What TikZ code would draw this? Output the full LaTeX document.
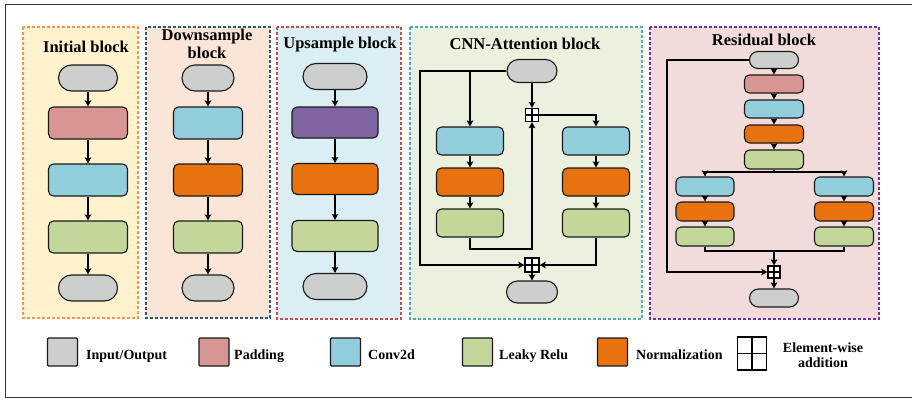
\documentclass[tikz,border=0pt]{standalone}
\usepackage{fontspec}
\setmainfont{Liberation Serif}
\usetikzlibrary{arrows.meta}
\definecolor{ioc}{HTML}{CDCFCE}
\definecolor{padc}{HTML}{D99594}
\definecolor{convc}{HTML}{92CDDC}
\definecolor{leakc}{HTML}{C4D79B}
\definecolor{normc}{HTML}{E8720F}
\definecolor{upc}{HTML}{8064A2}
\definecolor{initbg}{HTML}{FFF2CC}
\definecolor{initbd}{HTML}{F79646}
\definecolor{downbg}{HTML}{FBE5D6}
\definecolor{downbd}{HTML}{2B5C6B}
\definecolor{upbg}{HTML}{DAEEF3}
\definecolor{upbd}{HTML}{C0504D}
\definecolor{cnnbg}{HTML}{EBF1DE}
\definecolor{cnnbd}{HTML}{4BACC6}
\definecolor{resbg}{HTML}{F2DCDB}
\definecolor{resbd}{HTML}{7030A0}
\begin{document}
\begin{tikzpicture}[x=1pt,y=-1pt,
  sz/.style 2 args={minimum width=#1pt, minimum height=#2pt},
  nd/.style={draw=black!90, line width=1.1pt, inner sep=0pt, rounded corners=5pt},
  io/.style={nd, fill=ioc, rounded corners=#1},
  pad/.style={nd, fill=padc},
  conv/.style={nd, fill=convc},
  leak/.style={nd, fill=leakc},
  norm/.style={nd, fill=normc},
  ups/.style={nd, fill=upc},
  addn/.style={draw=black, line width=1.2pt, fill=white, inner sep=0pt,
    path picture={\draw[line width=1.2pt] (path picture bounding box.north) -- (path picture bounding box.south)
      (path picture bounding box.west) -- (path picture bounding box.east);}},
  blk/.style={line width=1.8pt, dash pattern=on 3pt off 2pt},
  ttl/.style={font=\bfseries\fontsize{16.5}{18}\selectfont, anchor=base, align=center, inner sep=0pt},
  lgt/.style={font=\bfseries\fontsize{14}{15}\selectfont, anchor=base west, inner sep=0pt},
  lgb/.style={draw=black!90, line width=1.3pt, inner sep=0pt, rounded corners=1pt, sz={30}{28}},
  arr/.style={-{Stealth[length=6pt,width=6.5pt,inset=1pt]}, line width=1.7pt},
  ln/.style={line width=1.7pt}
]
\useasboundingbox (0,0) rectangle (912,399);
\draw[line width=1pt, black!80] (5,4) rectangle (940,397);

% block backgrounds
\draw[blk, draw=initbd, fill=initbg] (23,27) rectangle (138,318);
\draw[blk, draw=downbd, fill=downbg] (146,27) rectangle (270,318);
\draw[blk, draw=upbd, fill=upbg] (277,27) rectangle (401,319);
\draw[blk, draw=cnnbd, fill=cnnbg] (410,27) rectangle (642,319);
\draw[blk, draw=resbd, fill=resbg] (650,27) rectangle (879,319);

% titles
\node[ttl] (t1) at (86,52) {Initial block};
\node[ttl] (t2) at (207,58) {Downsample\\block};
\node[ttl] (t3) at (340,48) {Upsample block};
\node[ttl] (t4) at (525,49) {CNN-Attention block};
\node[ttl] (t5) at (764,45) {Residual block};

% Initial block
\node[io=13pt, sz={59}{26}] (i1) at (88,78) {};
\node[pad, sz={79}{32}] (i2) at (88,123) {};
\node[conv, sz={79}{32}] (i3) at (88,180) {};
\node[leak, sz={79}{32}] (i4) at (88,237) {};
\node[io=13pt, sz={59}{26}] (i5) at (88,288) {};
\draw[arr] (i1) -- (i2);
\draw[arr] (i2) -- (i3);
\draw[arr] (i3) -- (i4);
\draw[arr] (i4) -- (i5);

% Downsample block
\node[io=13pt, sz={52}{26}] (d1) at (208,78) {};
\node[conv, sz={69}{32}] (d2) at (208,123) {};
\node[norm, sz={69}{32}] (d3) at (208,180) {};
\node[leak, sz={69}{32}] (d4) at (208,237) {};
\node[io=13pt, sz={52}{26}] (d5) at (208,288) {};
\draw[arr] (d1) -- (d2);
\draw[arr] (d2) -- (d3);
\draw[arr] (d3) -- (d4);
\draw[arr] (d4) -- (d5);

% Upsample block
\node[io=13pt, sz={64}{26}] (u1) at (335,76.5) {};
\node[ups, sz={86}{31}] (u2) at (335,122.5) {};
\node[norm, sz={86}{31}] (u3) at (335,179) {};
\node[leak, sz={86}{31}] (u4) at (335,236) {};
\node[io=13pt, sz={64}{26}] (u5) at (335,286.5) {};
\draw[arr] (u1) -- (u2);
\draw[arr] (u2) -- (u3);
\draw[arr] (u3) -- (u4);
\draw[arr] (u4) -- (u5);

% CNN-Attention block
\node[io=11.5pt, sz={50}{23}] (cin) at (532,71) {};
\node[conv, sz={67}{28}] (cl1) at (470,141) {};
\node[norm, sz={67}{28}] (cl2) at (470,182) {};
\node[leak, sz={67}{28}] (cl3) at (470,223) {};
\node[conv, sz={67}{28}] (cr1) at (596,141) {};
\node[norm, sz={67}{28}] (cr2) at (596,182) {};
\node[leak, sz={67}{28}] (cr3) at (596,223) {};
\node[addn, sz={13}{13}] (ca1) at (532,115) {};
\node[addn, sz={14}{14}] (ca2) at (532,265) {};
\node[io=11pt, sz={51}{22}] (cout) at (532,292) {};
\coordinate (cTL) at (420,71);
\coordinate (cBL) at (420,265);
\coordinate (cM) at (470,249);
\draw[arr] (cin.west) -- (cTL) -- (cBL) -- (ca2.west);
\draw[arr] (cl1.north |- cin.west) -- (cl1.north);
\draw[arr] (cin.south) -- (ca1.north);
\draw[arr] (cl3.south) -- (cM) -| (ca1.south);
\draw[arr] (ca1.east) -| (cr1.north);
\draw[arr] (cl1) -- (cl2);
\draw[arr] (cl2) -- (cl3);
\draw[arr] (cr1) -- (cr2);
\draw[arr] (cr2) -- (cr3);
\draw[arr] (cr3.south) |- (ca2.east);
\draw[arr] (ca2) -- (cout);

% Residual block
\node[io=8.5pt, sz={49}{17}] (rin) at (774,60) {};
\node[pad, sz={59}{18}] (rp) at (774,84) {};
\node[conv, sz={59}{18}] (rc) at (774,109) {};
\node[norm, sz={59}{18}] (rn) at (774,134) {};
\node[leak, sz={59}{19}] (rl) at (774,159.5) {};
\node[conv, sz={58}{19}] (rlc) at (705,186.5) {};
\node[norm, sz={58}{19}] (rln) at (705,211.5) {};
\node[leak, sz={58}{19}] (rll) at (705,236.5) {};
\node[conv, sz={59}{19}] (rrc) at (844,186.5) {};
\node[norm, sz={59}{19}] (rrn) at (844,211.5) {};
\node[leak, sz={59}{19}] (rrl) at (844,236.5) {};
\node[addn, sz={12}{12}] (ra) at (774,272) {};
\node[io=9pt, sz={49}{18}] (rout) at (774,298) {};
\coordinate (rS) at (774,172);
\coordinate (rM) at (774,251);
\coordinate (rK) at (667,60);
\coordinate (rK2) at (667,272);
\draw[arr] (rin) -- (rp);
\draw[arr] (rp) -- (rc);
\draw[arr] (rc) -- (rn);
\draw[arr] (rn) -- (rl);
\draw[ln] (rl.south) -- (rS);
\draw[arr] (rS) -| (rlc.north);
\draw[arr] (rS) -| (rrc.north);
\draw[arr] (rlc) -- (rln);
\draw[arr] (rln) -- (rll);
\draw[arr] (rrc) -- (rrn);
\draw[arr] (rrn) -- (rrl);
\draw[ln] (rll.south) |- (rM) -| (rrl.south);
\draw[arr] (rM) -- (ra.north);
\draw[arr] (rin.west) -- (rK) -- (rK2) -- (ra.west);
\draw[arr] (ra) -- (rout);

% Legend
\node[lgb, fill=ioc] (l1) at (62.5,352) {};
\node[lgt] (l1t) at (86,359) {Input/Output};
\node[lgb, fill=padc] (l2) at (214,352) {};
\node[lgt] (l2t) at (234,359) {Padding};
\node[lgb, fill=convc] (l3) at (345.5,352) {};
\node[lgt] (l3t) at (368,359) {Conv2d};
\node[lgb, fill=leakc] (l4) at (477.5,352) {};
\node[lgt] (l4t) at (499,359) {Leaky Relu};
\node[lgb, fill=normc] (l5) at (612.5,352) {};
\node[lgt] (l5t) at (636,359) {Normalization};
\node[addn, line width=1.5pt, sz={29}{33}, rounded corners=0pt] (l6) at (752,353.5) {};
\node[font=\bfseries\fontsize{14}{15}\selectfont, align=center, inner sep=0pt] (l6t) at (823,355) {Element-wise\\addition};
\end{tikzpicture}
\end{document}
